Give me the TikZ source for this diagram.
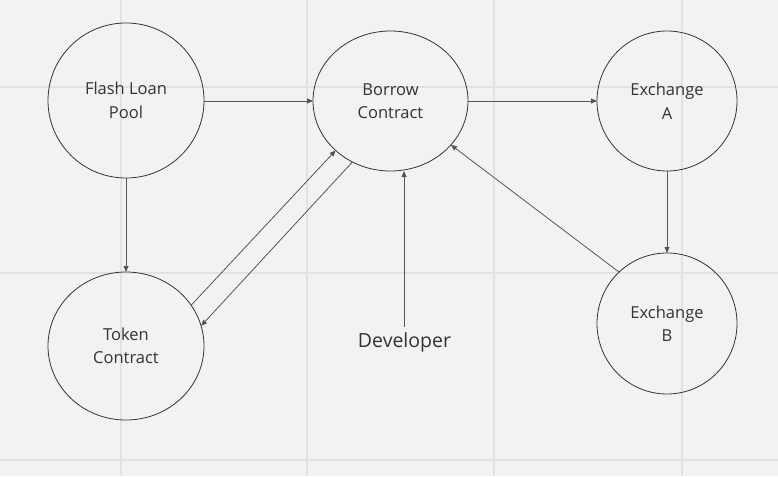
\documentclass[tikz,border=0pt]{standalone}
\usepackage{fontspec}
\setmainfont{Open Sans}
\usetikzlibrary{arrows.meta,shapes.geometric}
\definecolor{bgc}{HTML}{F2F2F2}
\definecolor{gridc}{HTML}{E2E2E2}
\definecolor{linec}{HTML}{555555}
\definecolor{txtc}{HTML}{333333}
\tikzset{
  circ/.style={ellipse, draw=txtc, line width=0.8pt, align=center, text=txtc,
    font=\fontsize{16.5}{23.5}\selectfont, inner sep=0pt, outer sep=0pt},
  arr/.style={draw=linec, line width=0.8pt, -{Triangle[length=6pt,width=5pt]}},
}
\begin{document}
\begin{tikzpicture}[x=1pt,y=-1pt]
\fill[bgc] (0,0) rectangle (778,476);
\useasboundingbox (0,0) rectangle (778,476);
\foreach \gx in {121,307,494,682} \draw[gridc, line width=1.2pt] (\gx,0) -- (\gx,476);
\foreach \gy in {87,273,460} \draw[gridc, line width=1.2pt] (0,\gy) -- (778,\gy);
% nodes
\node[circ, minimum width=156pt, minimum height=155pt] (flash) at (126,100.5) {Flash Loan\\Pool};
\node[circ, minimum width=155pt, minimum height=140pt] (borrow) at (390.5,101) {Borrow\\Contract};
\node[circ, minimum width=140pt, minimum height=140pt] (exa) at (667,101) {Exchange\\A};
\node[circ, minimum width=140pt, minimum height=141pt] (exb) at (667,323.5) {Exchange\\B};
\node[circ, minimum width=156pt, minimum height=148pt] (token) at (126,346) {Token\\Contract};
\node[text=txtc, font=\fontsize{19.5}{23}\selectfont, inner sep=0pt] (dev) at (404.5,342) {Developer};
\coordinate (devtop) at (404,327);
% arrows
\draw[arr] (flash.east |- borrow.west) -- (borrow.west);
\draw[arr] (borrow.east) -- (exa.west);
\draw[arr] (exa.south) -- (exb.north);
\draw[arr] (flash.south) -- (token.north);
\draw[arr] (token.32.5) -- (borrow.222.8);
\draw[arr] (borrow.238.2) -- (token.15);
\draw[arr] (exb.133.6) -- (borrow.324.4);
\draw[arr] (devtop) -- (devtop |- borrow.south);
\end{tikzpicture}
\end{document}
